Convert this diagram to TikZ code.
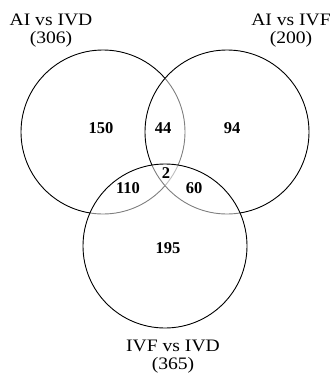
\documentclass[tikz,border=0pt]{standalone}
\usepackage{fontspec}
\setmainfont{Liberation Serif}
\newfontfamily\labelfont[FakeStretch=1.12]{Liberation Serif}
\usetikzlibrary{positioning}
\tikzstyle{set}=[%
  draw,
  circle,
  line width=0.9pt,
  minimum size=164pt,
  inner sep=0pt,
  fill=white,
  fill opacity=0.5
]
\tikzstyle{setname}=[%
  align=center,
  inner sep=0pt,
  font=\labelfont\fontsize{17.5}{18}\selectfont
]
\tikzstyle{count}=[%
  inner sep=0pt,
  font=\bfseries\fontsize{16.5}{18}\selectfont
]

\begin{document}
\begin{tikzpicture}[x=1pt, y=-1pt]
      \useasboundingbox (0,0) rectangle (336,383);
      \node[set] (ivd) at (103, 132) {};
      \node[set] (ivf) at (227, 132) {};
      \node[set] (ivfivd) at (165, 246) {};
      \node[setname] (ivdname) at (51, 31) {AI vs IVD\\(306)};
      \node[setname] (ivfname) at (291, 31) {AI vs IVF\\(200)};
      \node[setname] (ivfivdname) at (173, 357) {IVF vs IVD\\(365)};
      \foreach \val/\x/\y in {150/101/128, 44/163/128, 94/232/128, 2/166/173,
                              110/128/188, 60/194/188, 195/168/248} {%
        \node[count] (n\val) at (\x, \y) {\val};
      }
    \end{tikzpicture}
\end{document}
